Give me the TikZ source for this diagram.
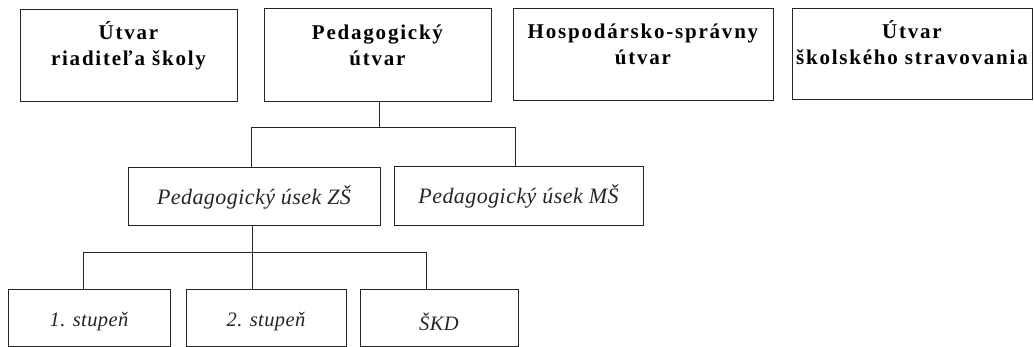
\documentclass[tikz,border=0pt]{standalone}
\usepackage{fontspec}
\setmainfont{Liberation Serif}
\newfontfamily\topfont[LetterSpace=8.5]{Liberation Serif}
\newfontfamily\itfont[LetterSpace=2]{Liberation Serif}
\begin{document}
\begin{tikzpicture}[x=1pt,y=-1pt,
  boxst/.style={draw=black!85, line width=0.9pt, inner sep=0pt, fill=white},
  toptext/.style={align=center, inner sep=0pt, text=black, font=\topfont\bfseries\fontsize{21}{26}\selectfont},
  ittext/.style={inner sep=0pt, text=black!85, font=\itfont\itshape\fontsize{22}{24}\selectfont},
  btext/.style={inner sep=0pt, text=black!85, font=\itfont\itshape\fontsize{20.5}{24}\selectfont},
  conn/.style={draw=black!85, line width=0.9pt}]
\useasboundingbox (0,0) rectangle (1034,347);
% top row
\node[boxst, minimum width=217pt, minimum height=92pt] (a) at (128.5,55) {};
\node[boxst, minimum width=227pt, minimum height=93pt] (b) at (377.5,54.5) {};
\node[boxst, minimum width=260pt, minimum height=92pt] (c) at (643,54) {};
\node[boxst, minimum width=240pt, minimum height=91pt] (d) at (912,53.5) {};
\node[toptext] (ta) at (128.5,46) {Útvar\\riaditeľa školy};
\node[toptext] (tb) at (377.5,45) {Pedagogický\\útvar};
\node[toptext] (tc) at (643,44) {Hospodársko-správny\\útvar};
\node[toptext] (td) at (912,43) {Útvar\\školského stravovania};
% middle row
\node[boxst, minimum width=252pt, minimum height=58pt] (zs) at (254,196) {};
\node[boxst, minimum width=249pt, minimum height=59pt] (ms) at (518.5,195.5) {};
\node[ittext] (tzs) at (254,197) {Pedagogický úsek ZŠ};
\node[ittext] (tms) at (518.5,196.5) {Pedagogický úsek MŠ};
% bottom row
\node[boxst, minimum width=162pt, minimum height=57pt] (s1) at (89,318) {};
\node[boxst, minimum width=160pt, minimum height=57pt] (s2) at (266,318) {};
\node[boxst, minimum width=158pt, minimum height=57pt] (s3) at (439,318) {};
\node[btext] (ts1) at (89,322) {1. stupeň};
\node[btext] (ts2) at (266,322) {2. stupeň};
\node[btext] (ts3) at (439,322) {ŠKD};
% connectors
\coordinate (h1) at (379,127);
\coordinate (hl) at (251,127);
\coordinate (hr) at (515,127);
\draw[conn] (b.south -| h1) -- (h1);
\draw[conn] (hl) -- (hr);
\draw[conn] (hl) -- (hl |- zs.north);
\draw[conn] (hr) -- (hr |- ms.north);
\coordinate (j2) at (252,252);
\coordinate (j1) at (83,252);
\coordinate (j3) at (426,252);
\draw[conn] (zs.south -| j2) -- (j2);
\draw[conn] (j1) -- (j3);
\draw[conn] (j1) -- (j1 |- s1.north);
\draw[conn] (j2) -- (j2 |- s2.north);
\draw[conn] (j3) -- (j3 |- s3.north);
\end{tikzpicture}
\end{document}
